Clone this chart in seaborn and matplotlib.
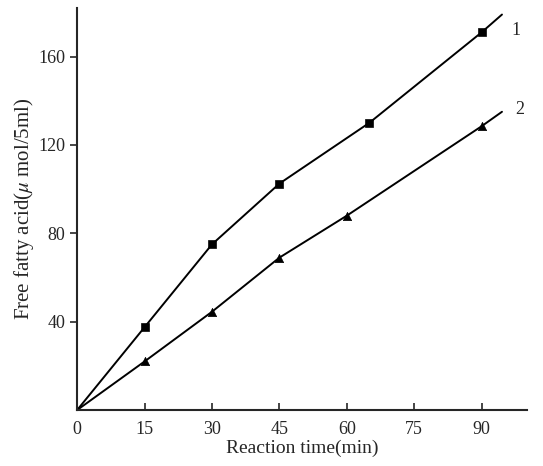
import numpy as np
import pandas as pd
import matplotlib
matplotlib.use("Agg")
import matplotlib.pyplot as plt
import seaborn as sns

time_1 = [15, 30, 45, 65, 90]
ffa_1 = [37.5, 75, 102.5, 130, 171]
time_2 = [15, 30, 45, 60, 90]
ffa_2 = [22, 44.5, 69, 88, 128.5]

# drawn curves start at the origin and run slightly past the last point
curve_x_1 = [0] + time_1 + [94.5]
curve_y_1 = [0] + ffa_1 + [179]
curve_x_2 = [0] + time_2 + [94.5]
curve_y_2 = [0] + ffa_2 + [135]

x_ticks = [0, 15, 30, 45, 60, 75, 90]
y_ticks = [40, 80, 120, 160]

sns.set_style("ticks")
plt.rcParams['font.family'] = ['Liberation Serif', 'DejaVu Serif']
plt.rcParams['mathtext.fontset'] = 'stix'

fig = plt.figure(figsize=(5.43, 4.66), dpi=100)
ax = fig.add_axes([0.142, 0.12, 0.828, 0.863])

curves = pd.DataFrame({
    'x': curve_x_1 + curve_x_2,
    'y': curve_y_1 + curve_y_2,
    'series': ['1'] * len(curve_x_1) + ['2'] * len(curve_x_2),
})
sns.lineplot(data=curves, x='x', y='y', hue='series', palette=['black', 'black'],
             linewidth=1.4, legend=False, ax=ax, sort=False)

sns.scatterplot(x=time_1, y=ffa_1, marker='s', color='black', s=36,
                edgecolor='black', ax=ax, zorder=3)
sns.scatterplot(x=time_2, y=ffa_2, marker='^', color='black', s=36,
                edgecolor='black', ax=ax, zorder=3)

ax.text(96.5, 172, '1', fontsize=13, va='center')
ax.text(97.5, 136, '2', fontsize=13, va='center')

ax.set_xlim(0, 100)
ax.set_ylim(0, 182)
ax.set_xticks(x_ticks)
ax.set_yticks(y_ticks)
ax.tick_params(axis='x', direction='in', length=5, width=1.2, labelsize=13, pad=8)
ax.tick_params(axis='y', direction='out', length=5, width=1.2, labelsize=13)
for s in ['left', 'bottom']:
    ax.spines[s].set_linewidth(1.5)
sns.despine(ax=ax)

ax.set_xlabel('Reaction time(min)', fontsize=14, labelpad=1)
ax.set_ylabel('Free fatty acid($\\mu$ mol/5ml)', fontsize=15, labelpad=2)

fig.savefig('out.png', dpi=100)
